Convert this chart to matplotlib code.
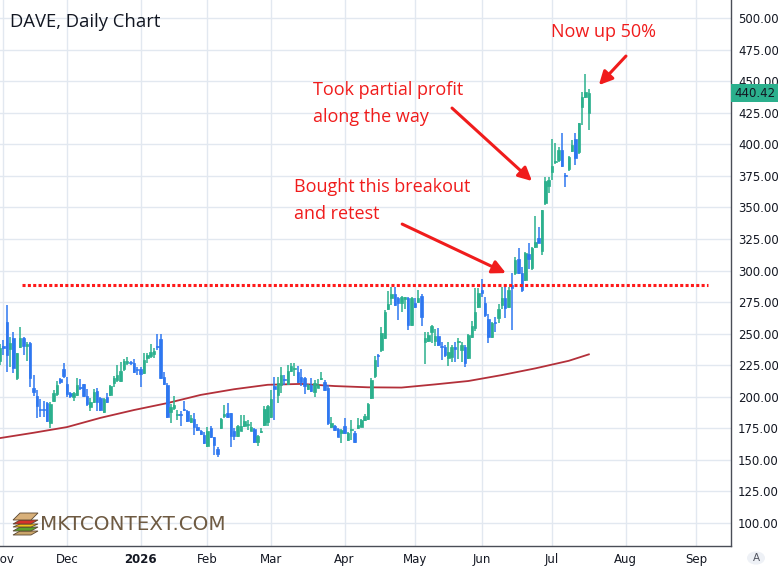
import numpy as np
import pandas as pd
import matplotlib
matplotlib.use("Agg")
import matplotlib.pyplot as plt
from matplotlib.patches import Rectangle, Circle, Polygon
from matplotlib.transforms import blended_transform_factory

# 日K数据 (DAVE, 2025-10-31 起)
opens = [228.5, 240.5, 259.5, 237.6, 246.3, 214.6, 239.2, 246.3, 240.5, 242.8,
         207.2, 200.6, 190.0, 190.0, 194.8, 179.0, 196.6, 202.2, 214.0, 221.7,
         210.0, 202.7, 199.6, 201.4, 207.3, 209.8, 200.8, 191.6, 196.1, 204.6,
         198.8, 188.2, 200.0, 201.4, 211.1, 213.3, 212.7, 221.7, 227.0, 227.5,
         226.5, 221.5, 221.7, 218.6, 231.0, 232.2, 233.8, 240.2, 245.5, 215.4,
         209.3, 188.2, 190.8, 185.3, 185.9, 190.0, 188.9, 180.2, 182.1, 176.2,
         172.5, 169.7, 161.1, 175.0, 167.9, 158.4, 175.0, 185.1, 186.9, 186.9,
         173.1, 168.9, 173.1, 176.8, 177.3, 173.1, 174.2, 164.4, 172.3, 177.6,
         180.0, 184.2, 208.5, 201.4, 209.3, 213.8, 210.0, 220.4, 222.2, 219.8,
         215.9, 214.6, 205.9, 209.3, 204.0, 207.2, 214.3, 212.0, 206.7, 175.8,
         176.8, 174.2, 171.0, 176.8, 165.8, 173.4, 171.6, 175.0, 176.2, 181.6,
         182.1, 198.8, 216.4, 232.6, 237.0, 246.3, 269.3, 278.0, 281.4, 278.0,
         274.0, 277.8, 278.0, 256.8, 274.0, 274.8, 279.8, 243.6, 244.4, 251.6,
         244.4, 248.1, 239.6, 239.6, 230.5, 231.2, 239.6, 243.3, 237.0, 239.6,
         230.5, 247.6, 254.2, 271.3, 284.5, 274.0, 261.3, 247.6, 258.7, 262.1,
         272.7, 278.0, 271.3, 288.5, 297.8, 308.9, 297.8, 292.5, 313.0, 301.8,
         318.9, 325.5, 315.7, 353.7, 366.9, 378.3, 386.0, 387.5, 395.4, 375.2,
         380.2, 394.9, 403.9, 394.1, 429.8, 437.2, 424.5]
highs = [242, 245, 272.7, 247.6, 251.6, 235, 255, 247, 243, 243.5,
         217.2, 205.4, 198, 197, 196, 196, 205, 212.5, 215, 227,
         216, 204, 204, 214.6, 214, 210, 206, 199.3, 206.5, 206.9,
         200, 199, 203, 209.3, 216.4, 225, 227.8, 230, 231.7, 228.5,
         230, 223.8, 223.8, 234.4, 234.9, 242, 239, 249.7, 249.7, 219.8,
         210.6, 194, 200.6, 189.5, 189, 197, 189.5, 185.9, 187, 178.3,
         173.7, 172, 176.2, 176.8, 168, 160, 183, 193.5, 195, 187,
         175, 177.6, 185.5, 185.5, 181.6, 180, 175, 169.7, 175, 193,
         193.5, 205.4, 215.9, 215.9, 223.8, 217.2, 225, 226.5, 226.5, 224.4,
         221.7, 215.9, 210.5, 214.6, 213.3, 214, 219.8, 213, 209.3, 184.2,
         177.6, 175, 174.2, 182.8, 172, 182, 173.1, 182.9, 182.1, 186.3,
         195.4, 214.6, 232.3, 233.9, 255.5, 268.7, 284, 287.2, 287.2, 279,
         279.5, 279, 279, 279, 278, 284.5, 281.4, 251.6, 251.6, 256.8,
         253.4, 254.2, 243.6, 241, 243.6, 241, 243.6, 246.3, 243.6, 241,
         250, 260, 285.9, 285.9, 293, 279.3, 265.7, 259.5, 263.4, 273.5,
         287.2, 287.2, 287.2, 297.8, 310.9, 317.6, 303, 315, 322, 318.9,
         343.2, 334.7, 347.9, 373.7, 374.3, 403.9, 401.2, 398, 409, 377.5,
         390.8, 403.3, 408.6, 416.6, 441.6, 455.6, 443.9]
lows = [225, 233, 219.8, 223.8, 218.6, 213.5, 239, 233, 228, 208,
        200.6, 183.4, 184, 184, 180, 175.2, 196, 201, 210, 215,
        199.6, 199, 197, 200.5, 205, 200, 192.5, 188.4, 195, 189,
        189, 187.3, 195, 200.6, 208, 212, 212, 220.6, 225, 225.5,
        219, 217.2, 208, 218, 226.5, 230.5, 230.5, 237, 213.8, 209.3,
        183.4, 179, 189.6, 181.6, 176.8, 188.5, 180.2, 179, 169.7, 172.9,
        169.7, 162.5, 160, 167.1, 153.9, 152, 174.2, 182.8, 183.4, 160,
        165.8, 168.1, 172.5, 176.2, 173.7, 172.5, 163.6, 161, 171, 177,
        177, 183.5, 181.6, 194.8, 202.7, 209.3, 209, 219.8, 216.4, 210.6,
        208.5, 202.2, 205, 204, 199.6, 206.7, 213.3, 204.8, 177.6, 175.2,
        173.1, 167.9, 163.6, 170.5, 165, 165.8, 163.6, 174.2, 175.7, 181,
        181.6, 198, 214.6, 223.8, 235.7, 245.5, 268.5, 272.7, 271.8, 260.8,
        267.4, 269.3, 252.9, 256, 270.5, 274, 256, 226, 243.6, 242.8,
        240.2, 240.2, 229.1, 231.2, 224.4, 227.5, 227.8, 229.6, 227.5, 223.8,
        229.6, 246.3, 252.5, 270.1, 279.2, 263.4, 242.3, 246.3, 251.6, 258.2,
        269.3, 262.1, 270.1, 252.9, 296.4, 297, 283.2, 291.7, 301, 300.5,
        317.6, 321.6, 312.3, 352.3, 361.6, 371.7, 384.5, 386.2, 382, 365.9,
        379, 394.1, 383.6, 392.3, 415.3, 436.5, 411.3]
closes = [238.8, 239.0, 233.1, 242.8, 222.6, 234.4, 246.3, 240.2, 241.5, 214.6,
          204.0, 192.7, 189.5, 189.5, 180.8, 194.0, 202.7, 209.3, 211.9, 216.4,
          202.2, 201.0, 202.7, 209.3, 206.7, 200.8, 194.0, 195.8, 204.0, 196.1,
          189.5, 198.2, 196.1, 208.5, 214.6, 217.2, 220.6, 228.6, 228.0, 227.0,
          219.8, 221.0, 218.0, 229.4, 233.0, 235.7, 236.5, 239.6, 214.6, 210.0,
          184.2, 191.6, 193.5, 185.8, 185.3, 189.3, 181.0, 183.4, 175.8, 173.7,
          170.5, 163.1, 172.5, 167.9, 161.8, 154.6, 182.1, 185.6, 184.2, 168.9,
          168.9, 176.8, 176.8, 180.8, 177.8, 176.2, 164.4, 168.9, 172.8, 190.0,
          192.7, 198.0, 205.9, 210.6, 217.2, 213.3, 220.5, 224.4, 222.7, 212.0,
          212.0, 208.5, 209.3, 204.8, 210.6, 209.3, 214.8, 205.4, 179.0, 179.0,
          173.7, 168.4, 173.7, 171.0, 171.6, 173.9, 164.4, 177.6, 181.6, 184.8,
          194.3, 213.3, 229.4, 232.1, 250.3, 267.4, 273.5, 281.3, 272.7, 274.0,
          278.8, 278.3, 256.8, 278.0, 271.3, 278.0, 262.9, 246.3, 248.9, 256.0,
          248.1, 241.0, 239.2, 233.1, 235.7, 239.6, 237.6, 243.8, 241.0, 227.0,
          248.9, 256.0, 267.4, 281.9, 281.9, 264.8, 247.6, 258.2, 258.2, 269.3,
          278.0, 270.1, 284.5, 285.9, 308.3, 297.8, 284.5, 314.0, 308.9, 317.6,
          322.8, 322.0, 347.9, 371.1, 372.1, 382.8, 386.5, 395.4, 382.8, 374.7,
          389.6, 399.4, 388.8, 416.6, 437.2, 441.6, 440.42]

# 均线 (每 10 根K线读一个点, 最后一点为最后一根)
ma_values = [167.3, 171.5, 176.0, 183.3, 189.5, 195.0, 201.5, 206.0, 209.5, 210.2,
             208.5, 207.5, 207.3, 209.8, 212.5, 217.2, 222.5, 228.5, 233.6]

# 交易日历
holidays = ['2025-11-27', '2025-12-25', '2026-01-01', '2026-01-19', '2026-02-16',
            '2026-04-03', '2026-05-25', '2026-06-19', '2026-07-03', '2026-09-07']
days = pd.bdate_range('2025-10-31', '2026-09-30', freq='C', holidays=holidays)

level = 288.5          # 突破水平线
last_price = 440.42

UP = '#2bb08d'
DOWN = '#2e77f0'
RED = '#f01c1c'
GRID = '#e2e8f0'
TXT = '#131722'

fig = plt.figure(figsize=(7.78, 5.70), dpi=100)
ax = fig.add_axes([0, 24 / 570, 731 / 778, 546 / 570])

n = len(closes)
x = np.arange(n)
o = np.array(opens)
c = np.array(closes)
colors = [UP if cc >= oo else DOWN for oo, cc in zip(o, c)]

# 网格
month_first = [i for i in range(1, len(days)) if days[i].month != days[i - 1].month]
for i in month_first:
    ax.axvline(i, color=GRID, lw=1, zorder=0)
for p in range(100, 501, 25):
    ax.axhline(p, color=GRID, lw=1, zorder=0)

# K线
ax.vlines(x, lows, highs, colors=colors, lw=1.1, zorder=3)
body_bottom = np.minimum(o, c)
body_h = np.maximum(np.abs(c - o), 0.9)
ax.bar(x, body_h, bottom=body_bottom, width=0.74, color=colors,
       edgecolor=colors, linewidth=0.5, zorder=4)

# 均线
ma_x = np.r_[np.arange(0, 171, 10), n - 1]
ax.plot(ma_x, ma_values, color='#b3303a', lw=1.3, zorder=2)

# 水平虚线
ax.plot([6.5, 211.6], [level, level], color='#ff1a1a', lw=2.2,
        dashes=(1.0, 0.75), zorder=5)

# 标注
arrow = dict(arrowstyle='-|>', color=RED, lw=2.2, mutation_scale=20,
             shrinkA=0, shrinkB=0)
ax.annotate('', xy=(179.0, 446.9), xytext=(187.1, 469.9), arrowprops=arrow, zorder=6)
ax.annotate('', xy=(159.0, 370.9), xytext=(135.1, 428.7), arrowprops=arrow, zorder=6)
ax.annotate('', xy=(151.2, 298.0), xytext=(120.2, 336.8), arrowprops=arrow, zorder=6)

ax.text(164.7, 488.9, 'Now up 50%', color=RED, fontsize=13, family='Open Sans',
        ha='left', va='center', zorder=6)
ax.text(93.5, 432.3, 'Took partial profit\nalong the way', color=RED, fontsize=13,
        family='Open Sans', ha='left', va='center', linespacing=1.6, zorder=6)
ax.text(87.9, 355.4, 'Bought this breakout\nand retest', color=RED, fontsize=13,
        family='Open Sans', ha='left', va='center', linespacing=1.6, zorder=6)

# 坐标轴
ax.set_xlim(-0.03, 218.5)
ax.set_ylim(81.8, 514.3)
for s in ['top', 'left']:
    ax.spines[s].set_visible(False)
for s in ['right', 'bottom']:
    ax.spines[s].set_color('#4a4d57')
    ax.spines[s].set_linewidth(1)

ax.yaxis.tick_right()
ax.set_yticks(range(100, 501, 25))
ax.set_yticklabels([f'{p:.2f}' for p in range(100, 501, 25)])
ax.tick_params(axis='y', length=0, pad=5, labelsize=8.5, labelcolor=TXT)

ax.set_xticks(month_first)
ax.set_xticklabels(['%d' % days[i].year if days[i].month == 1 else days[i].strftime('%b')
                    for i in month_first])
ax.tick_params(axis='x', length=0, pad=5, labelsize=8.5, labelcolor=TXT)
for lbl in ax.get_xticklabels():
    if lbl.get_text().isdigit():
        lbl.set_fontweight('bold')

# 最新价标签
tr = blended_transform_factory(ax.transAxes, ax.transData)
ax.add_patch(Rectangle((1.0, last_price - 7.2), 47 / 731, 14.4, transform=tr,
                       facecolor=UP, edgecolor='none', clip_on=False, zorder=7))
ax.text(1.0 + 23.5 / 731, last_price, f'{last_price:.2f}', transform=tr, ha='center',
        va='center', fontsize=8.5, color=TXT, clip_on=False, zorder=8)

# 标题
fig.text(10 / 778, 1 - 22 / 570, 'DAVE, Daily Chart', fontsize=13.3, color=TXT,
         family='Open Sans', ha='left', va='center')

# 水印 (图标 + 文字)
def fpx(px, py):
    return (px / 778, 1 - py / 570)

layers = [('#c9a46a', 531, 535), ('#5aa02c', 527, 531), ('#f0c419', 524, 527),
          ('#d6322a', 520, 524), ('#d8b07a', 513, 520)]
for col, y0, y1 in layers:
    pts = [fpx(13, y1), fpx(31, y1), fpx(38, y0), fpx(20, y0)]
    fig.patches.append(Polygon(pts, closed=True, transform=fig.transFigure,
                               facecolor=col, edgecolor='#5a4630', lw=0.6))
fig.text(40 / 778, 1 - 524 / 570, 'MKTCONTEXT.COM', fontsize=14.3, color='#6e5a42',
         family='DejaVu Sans', ha='left', va='center')

# 右下角 A
fig.patches.append(Circle(fpx(756, 558), 9 / 778, transform=fig.transFigure,
                          facecolor='#eef1f6', edgecolor='none'))
fig.text(756 / 778, 1 - 558 / 570, 'A', fontsize=7.5, color='#50535e',
         ha='center', va='center')

fig.savefig('out.png', dpi=100)
